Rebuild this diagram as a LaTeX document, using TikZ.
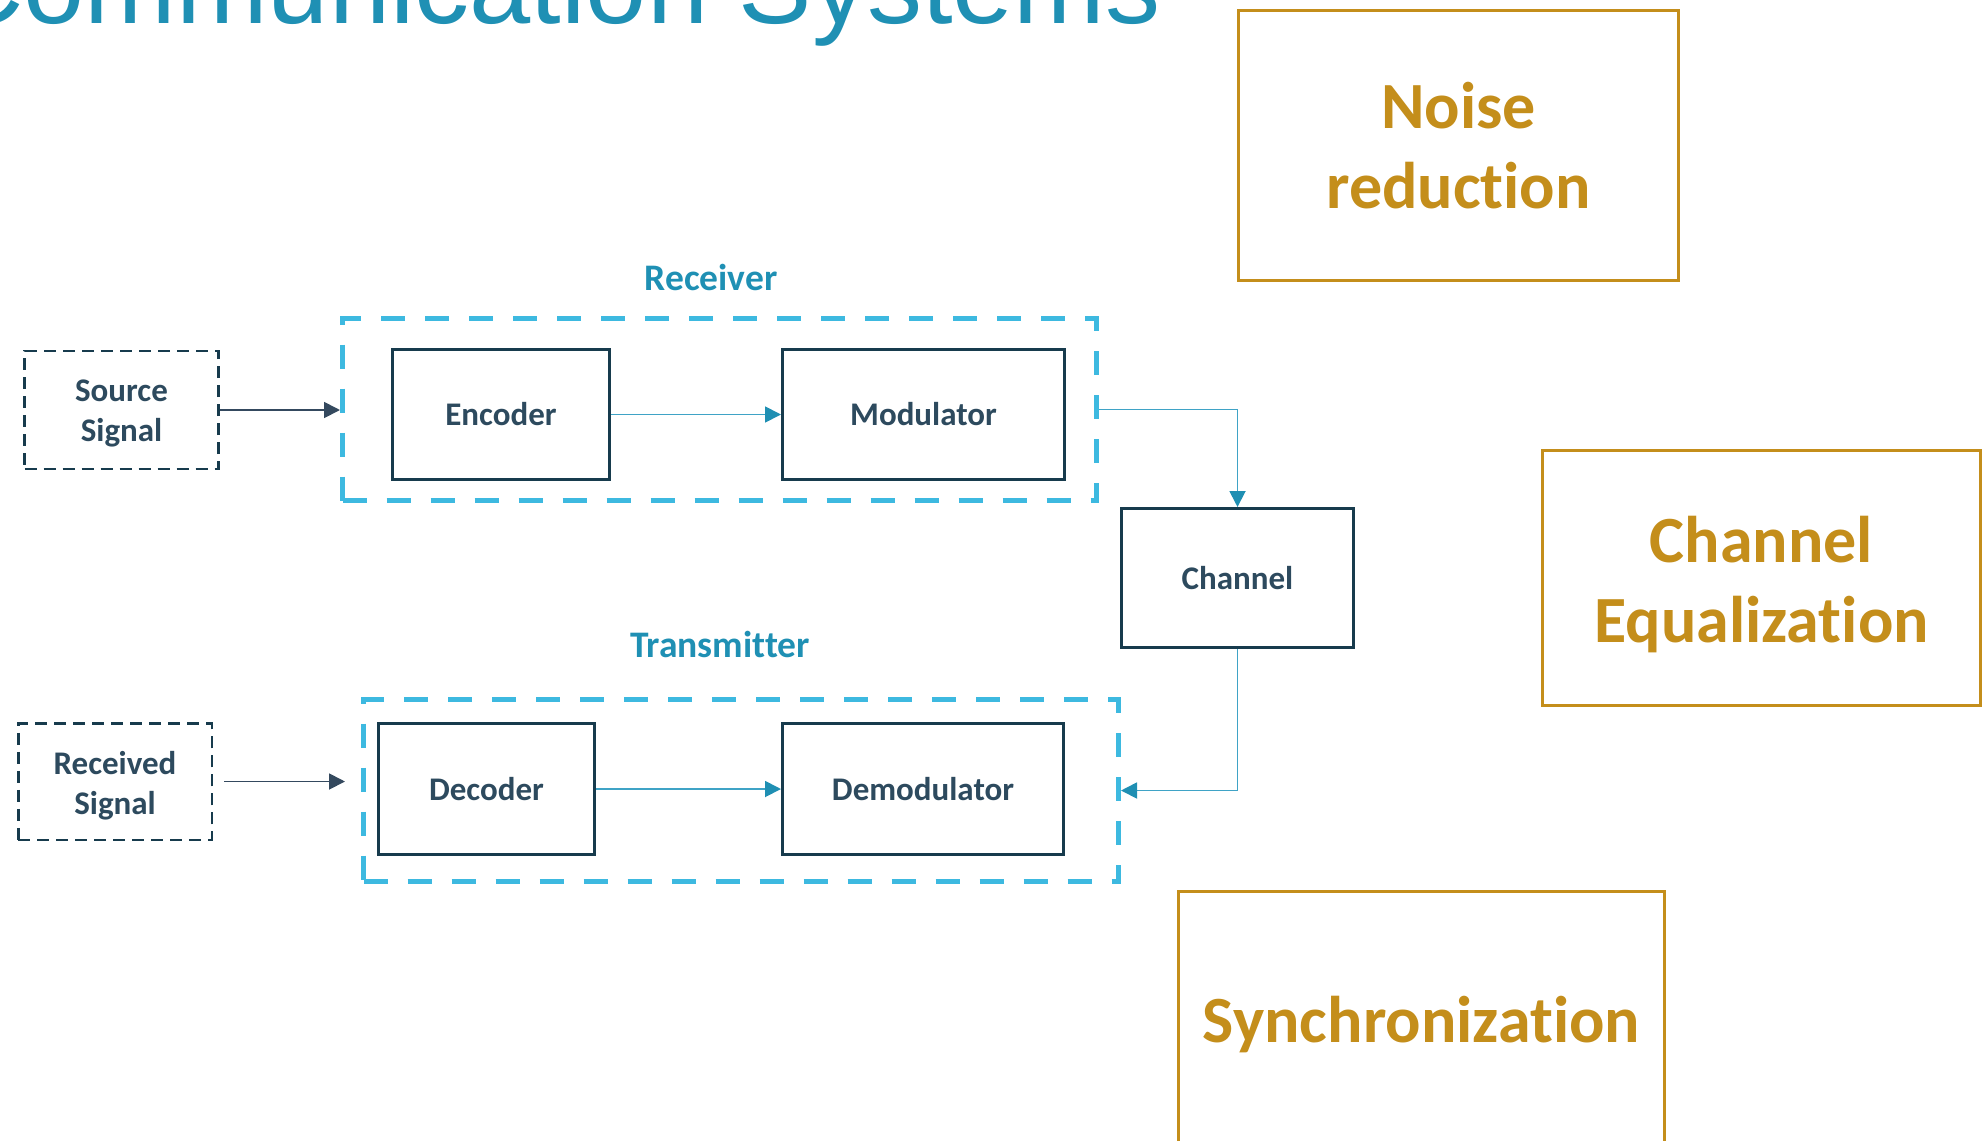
\documentclass[tikz,border=0pt]{standalone}
\usepackage{fontspec}
\setmainfont{Carlito}[Ligatures=NoCommon]
\newfontfamily\titlefont{Liberation Sans}
\usetikzlibrary{arrows.meta}
\definecolor{darkline}{HTML}{173B4D}
\definecolor{darktext}{HTML}{2D4A5E}
\definecolor{tealtext}{HTML}{1F90B4}
\definecolor{dashblue}{HTML}{3DB9E0}
\definecolor{conline}{HTML}{3FA3C6}
\definecolor{contip}{HTML}{1F8FB3}
\definecolor{srcline}{HTML}{34495E}
\definecolor{gold}{HTML}{C48E1B}
\newcommand\lowertext[1]{\rule{0pt}{\dimexpr\fontcharht\font`\l+#1\relax}}
\tikzset{
  blockbox/.style={draw=darkline, line width=1.5pt, fill=white, inner sep=0pt,
    text=darktext, font=\fontsize{16.5pt}{20pt}\selectfont\bfseries, align=center},
  inputbox/.style={draw=darkline, line width=1.25pt, dash pattern=on 6pt off 3.5pt,
    fill=white, inner sep=0pt, text=darktext,
    font=\fontsize{16.5pt}{20pt}\selectfont\bfseries, align=center},
  groupbox/.style={draw=dashblue, line width=2.5pt, dash pattern=on 12pt off 10pt, inner sep=0pt},
  grouplabel/.style={text=tealtext, font=\fontsize{18.75pt}{22pt}\selectfont\bfseries, inner sep=0pt},
  goldbox/.style={draw=gold, line width=1.5pt, fill=white, inner sep=0pt, text=gold,
    font=\fontsize{33pt}{40pt}\selectfont\bfseries, align=center},
  conarrow/.style={draw=conline, line width=0.9pt, -{Triangle[length=8pt,width=8pt,color=contip]}},
  srcarrow/.style={draw=srcline, line width=0.9pt, -{Triangle[length=8pt,width=8pt]}}
}
\begin{document}
\begin{tikzpicture}[x=0.5pt,y=-0.5pt]
\useasboundingbox (0,0) rectangle (1984,1140);
% title
\node[anchor=base east, inner sep=0pt, text=tealtext, font=\titlefont\fontsize{55pt}{60pt}\selectfont] (title) at (1161,23) {Communication Systems};
% group containers
\node[groupbox, minimum width=377pt, minimum height=91pt] (rcv) at (719.5,409.5) {};
\node[groupbox, minimum width=377.5pt, minimum height=91pt] (tx) at (741,790.5) {};
\node[grouplabel] (rcvlabel) at (711,277) {Receiver};
\node[grouplabel] (txlabel) at (720,644) {Transmitter};
% blocks
\node[inputbox, minimum width=97pt, minimum height=59pt] (src) at (121.5,410) {\lowertext{2.7pt}Source\\Signal};
\node[blockbox, minimum width=108.5pt, minimum height=65pt] (enc) at (501,414.5) {Encoder};
\node[blockbox, minimum width=141pt, minimum height=65pt] (mod) at (923.5,414.5) {Modulator};
\node[blockbox, minimum width=116pt, minimum height=69.5pt] (chan) at (1237.5,578) {Channel};
\node[inputbox, minimum width=96.75pt, minimum height=58.25pt] (recv) at (115,781.5) {\lowertext{4pt}Received\\Signal};
\node[blockbox, minimum width=108pt, minimum height=65.5pt] (dec) at (486.5,789) {Decoder};
\node[blockbox, minimum width=140.5pt, minimum height=65.5pt] (demod) at (923,789) {Demodulator};
% gold boxes
\node[goldbox, minimum width=220pt, minimum height=135pt] (noise) at (1458.5,145.5) {Noise\\reduction};
\node[goldbox, minimum width=219pt, minimum height=127.5pt] (eq) at (1761.5,578) {\lowertext{7pt}Channel\\Equalization};
\node[goldbox, minimum width=243pt, minimum height=133.5pt] (sync) at (1421.5,1025) {Synchronization};
% connectors
\draw[srcarrow] (src.east) -- (src.east -| rcv.west);
\draw[srcarrow, shorten <=5.5pt, shorten >=8pt] (recv.east) -- (recv.east -| tx.west);
\draw[conarrow] (enc.east) -- (mod.west);
\draw[conarrow] (dec.east) -- (demod.west);
\draw[conarrow] (rcv.east) -| (chan.north);
\draw[conarrow] (chan.south) |- (tx.east);
\end{tikzpicture}
\end{document}
